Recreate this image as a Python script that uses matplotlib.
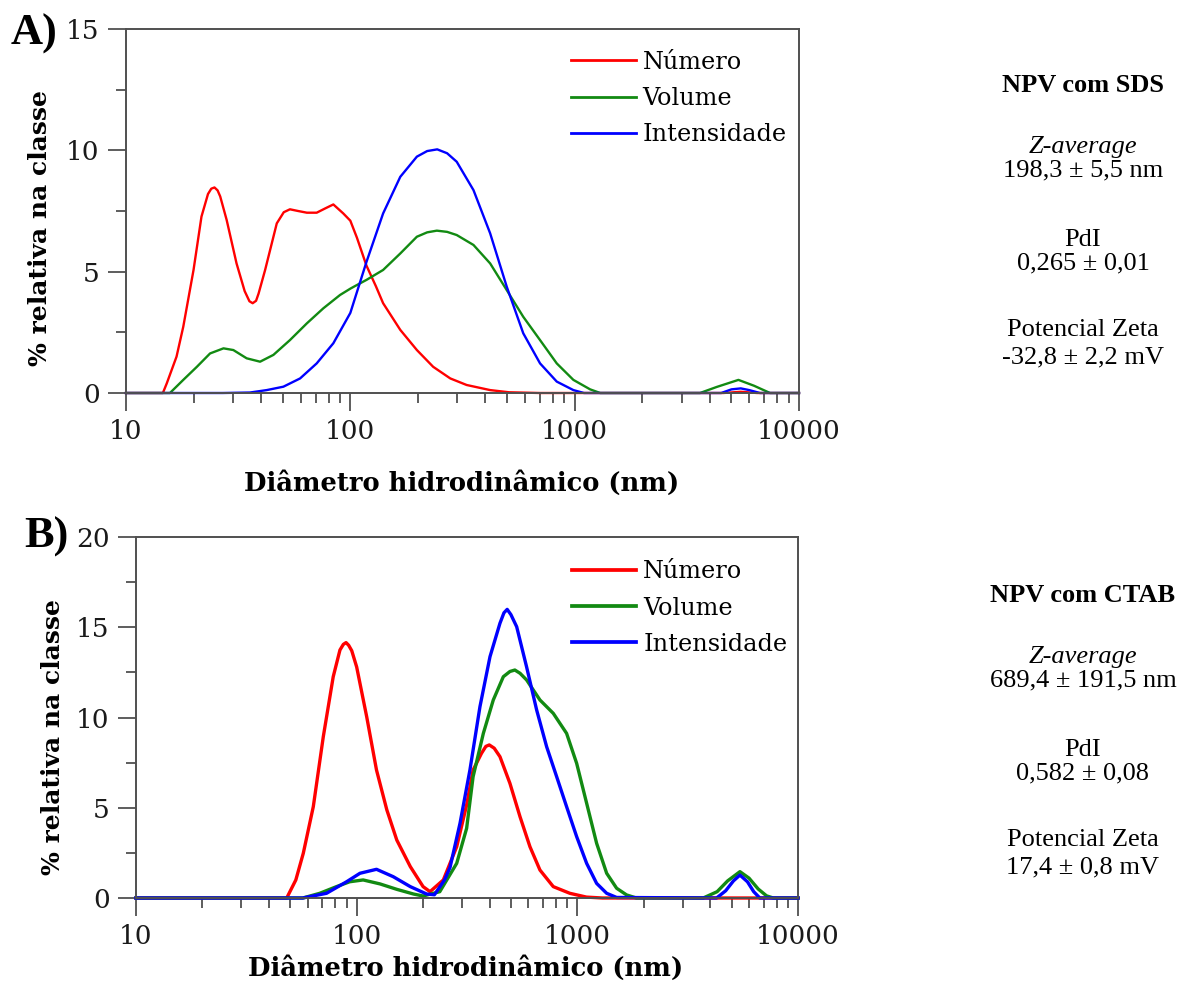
import matplotlib
matplotlib.use("Agg")
import matplotlib.pyplot as plt
from matplotlib.ticker import LogLocator, NullFormatter, MultipleLocator

plt.rcParams['font.family'] = ['DejaVu Serif']

# ---------------- data: panel A (NPV com SDS) ----------------
a_num_x = [10, 14.6, 15.2, 16.8, 18.0, 20.0, 21.7, 23.2, 24.0, 24.8, 25.6, 26.3, 28.1, 31.1, 33.8, 35.5, 36.7, 38.0, 39.0, 41.7,
           47, 50.5, 53.8, 58.5, 64, 70.8, 77, 84, 93, 100, 107, 118, 130, 140, 167, 198, 234, 279, 330,
           420, 510, 700, 4600, 5500, 6500, 10000]
a_num_y = [0, 0, 0.4, 1.5, 2.73, 5.07, 7.27, 8.2, 8.42, 8.47, 8.35, 8.1, 7.13, 5.34, 4.2, 3.78, 3.7, 3.8, 4.1, 5.07,
           6.99, 7.45, 7.57, 7.5, 7.43, 7.43, 7.6, 7.77, 7.4, 7.1, 6.4, 5.25, 4.4, 3.7, 2.6, 1.77, 1.08, 0.6, 0.33,
           0.12, 0.03, 0, 0, 0.05, 0, 0]

a_vol_x = [10, 15.7, 18, 20.7, 23.7, 27.2, 30.1, 34.5, 39.6, 45.4, 53.8, 64, 75.8, 90, 100, 107, 118, 140,
           167, 198, 220, 243, 270, 298, 354, 420, 498, 590, 701, 832, 987, 1172, 1300, 3620, 4300, 5370, 6300, 7430, 10000]
a_vol_y = [0, 0, 0.54, 1.08, 1.63, 1.84, 1.77, 1.43, 1.29, 1.57, 2.18, 2.87, 3.49, 4.04, 4.3, 4.45, 4.66, 5.07,
           5.75, 6.44, 6.62, 6.69, 6.64, 6.51, 6.1, 5.34, 4.24, 3.14, 2.18, 1.22, 0.54, 0.15, 0, 0, 0.25, 0.54, 0.3, 0, 0]

a_int_x = [10, 27, 35.7, 42.4, 50.3, 59.7, 70.8, 84, 100, 118, 140, 167, 198, 220, 244, 270, 298, 354, 420, 498, 590,
           701, 832, 987, 1100, 4500, 5000, 5500, 6000, 6700, 10000]
a_int_y = [0, 0, 0.02, 0.12, 0.26, 0.6, 1.22, 2.05, 3.3, 5.4, 7.4, 8.91, 9.74, 9.97, 10.04, 9.88, 9.53, 8.36, 6.58, 4.38, 2.46,
           1.22, 0.47, 0.12, 0, 0, 0.15, 0.19, 0.12, 0, 0]

# ---------------- data: panel B (NPV com CTAB) ----------------
b_num_x = [10, 48.2, 53, 57.3, 63.6, 70.6, 78.3, 84, 87, 89.5, 92, 95, 100, 111, 123, 137, 152, 175, 200, 215, 247,
           284, 315, 337, 368, 385, 399, 420, 446, 495, 550, 610, 677, 778, 925, 1100, 1300, 10000]
b_num_y = [0, 0, 1.0, 2.48, 5.06, 8.94, 12.26, 13.74, 14.05, 14.15, 14.0, 13.7, 12.8, 10.05, 7.09, 4.88, 3.21, 1.74, 0.63, 0.35, 1.0,
           2.84, 5.15, 7.09, 8.02, 8.4, 8.48, 8.3, 7.83, 6.35, 4.5, 2.84, 1.55, 0.63, 0.26, 0.05, 0, 0]

b_vol_x = [10, 57, 68, 81, 93, 107, 127.6, 152, 181, 200, 238, 284, 315, 337, 375, 416, 462, 495, 521, 550, 589, 677,
           778, 894, 993, 1102, 1223, 1358, 1507, 1672, 1850, 3720, 4300, 4800, 5456, 6000, 6600, 7200, 7727, 10000]
b_vol_y = [0, 0, 0.26, 0.63, 0.9, 1.0, 0.78, 0.48, 0.22, 0.11, 0.35, 1.92, 3.86, 6.72, 9.12, 10.97, 12.26, 12.55, 12.63, 12.45, 12.08, 10.97,
           10.23, 9.12, 7.46, 5.25, 3.03, 1.37, 0.54, 0.17, 0, 0, 0.35, 0.95, 1.46, 1.1, 0.5, 0.12, 0, 0]

b_int_x = [10, 57, 73, 90, 103.5, 123, 146.5, 175, 207.6, 225, 250, 265, 294, 326, 362, 402, 446, 465, 481, 500, 531,
           589, 654, 726, 806, 894, 993, 1102, 1223, 1358, 1507, 4276, 4700, 5100, 5456, 5900, 6300, 6714, 10000]
b_int_y = [0, 0, 0.26, 0.9, 1.37, 1.59, 1.18, 0.63, 0.22, 0.18, 1.0, 1.7, 4.14, 7.09, 10.6, 13.37, 15.22, 15.8, 15.99, 15.7, 15.03,
           12.8, 10.42, 8.38, 6.72, 5.06, 3.4, 1.92, 0.81, 0.26, 0.03, 0, 0.4, 0.95, 1.27, 0.9, 0.35, 0, 0]

series_labels = ['Número', 'Volume', 'Intensidade']
series_colors = ['#ff0000', '#128a12', '#0000ff']
x_ticks = [10, 100, 1000, 10000]
x_tick_labels = ['10', '100', '1000', '10000']
x_label = 'Diâmetro hidrodinâmico (nm)'
y_label = '% relativa na classe'

info_a = [('NPV com SDS', 'bold', 85), ('Z-average', 'italic', 147), ('198,3 ± 5,5 nm', 'normal', 170),
          ('PdI', 'normal', 240), ('0,265 ± 0,01', 'normal', 263),
          ('Potencial Zeta', 'normal', 330), ('-32,8 ± 2,2 mV', 'normal', 357)]
info_b = [('NPV com CTAB', 'bold', 595), ('Z-average', 'italic', 657), ('689,4 ± 191,5 nm', 'normal', 680),
          ('PdI', 'normal', 750), ('0,582 ± 0,08', 'normal', 773),
          ('Potencial Zeta', 'normal', 840), ('17,4 ± 0,8 mV', 'normal', 867)]

W, H = 1179, 983
fig = plt.figure(figsize=(W / 100, H / 100), dpi=100)

axA = fig.add_axes([126 / W, 1 - 393 / H, (799 - 126) / W, (393 - 29) / H])
axB = fig.add_axes([136 / W, 1 - 898 / H, (798 - 136) / W, (898 - 537) / H])

axis_col = '#505050'


def style(ax, ymax, lw, legend_anchor, xlab_y, ylab_x, ylab_y):
    ax.set_xscale('log')
    ax.set_xlim(10, 10000)
    ax.set_ylim(0, ymax)
    ax.set_xticks(x_ticks, labels=x_tick_labels)
    ax.xaxis.set_minor_locator(LogLocator(base=10, subs=range(2, 10)))
    ax.xaxis.set_minor_formatter(NullFormatter())
    ax.yaxis.set_major_locator(MultipleLocator(5))
    ax.yaxis.set_minor_locator(MultipleLocator(2.5))
    ax.tick_params(which='major', direction='out', length=13, width=1.3, color=axis_col,
                   labelsize=19, pad=6, labelcolor='#1a1a1a')
    ax.tick_params(which='minor', direction='out', length=7, width=1.3, color=axis_col)
    for s in ax.spines.values():
        s.set_color(axis_col)
        s.set_linewidth(1.4)
    ax.set_xlabel(x_label, fontsize=18.6, fontweight='bold')
    ax.xaxis.set_label_coords(0.4985, xlab_y)
    ax.xaxis.label.set_va('center')
    ax.set_ylabel(y_label, fontsize=18, fontweight='bold')
    ax.yaxis.set_label_coords(ylab_x, ylab_y)
    ax.yaxis.label.set_va('center')
    leg = ax.legend(loc='upper left', bbox_to_anchor=legend_anchor, frameon=False,
                    fontsize=17.3, handlelength=2.7, handletextpad=0.28, labelspacing=0.55,
                    borderaxespad=0, borderpad=0)
    for h in leg.get_lines():
        h.set_linewidth(lw + 0.3)


for xs, ys, c, lab in zip([a_num_x, a_vol_x, a_int_x], [a_num_y, a_vol_y, a_int_y], series_colors, series_labels):
    axA.plot(xs, ys, color=c, lw=1.7, label=lab, clip_on=False, solid_joinstyle='round')
for xs, ys, c, lab in zip([b_num_x, b_vol_x, b_int_x], [b_num_y, b_vol_y, b_int_y], series_colors, series_labels):
    axB.plot(xs, ys, color=c, lw=2.4, label=lab, clip_on=False, solid_joinstyle='round')

style(axA, 15, 1.7, (0.661, 0.94), -0.247, -0.128, 0.453)
style(axB, 20, 2.4, (0.658, 0.935), -0.194, -0.125, 0.446)

fig.text(34 / W, 1 - 34 / H, 'A)', fontsize=32, fontweight='bold', family='Liberation Serif',
         ha='center', va='center')
fig.text(46 / W, 1 - 537 / H, 'B)', fontsize=32, fontweight='bold', family='Liberation Serif',
         ha='center', va='center')

for info in (info_a, info_b):
    for txt, sty, yy in info:
        kw = dict(fontsize=19, family='Liberation Serif', ha='center', va='center')
        if sty == 'bold':
            kw['fontweight'] = 'bold'
        elif sty == 'italic':
            kw['fontstyle'] = 'italic'
        fig.text(1083 / W, 1 - yy / H, txt, **kw)

fig.savefig('out.png', dpi=100, facecolor='white')
